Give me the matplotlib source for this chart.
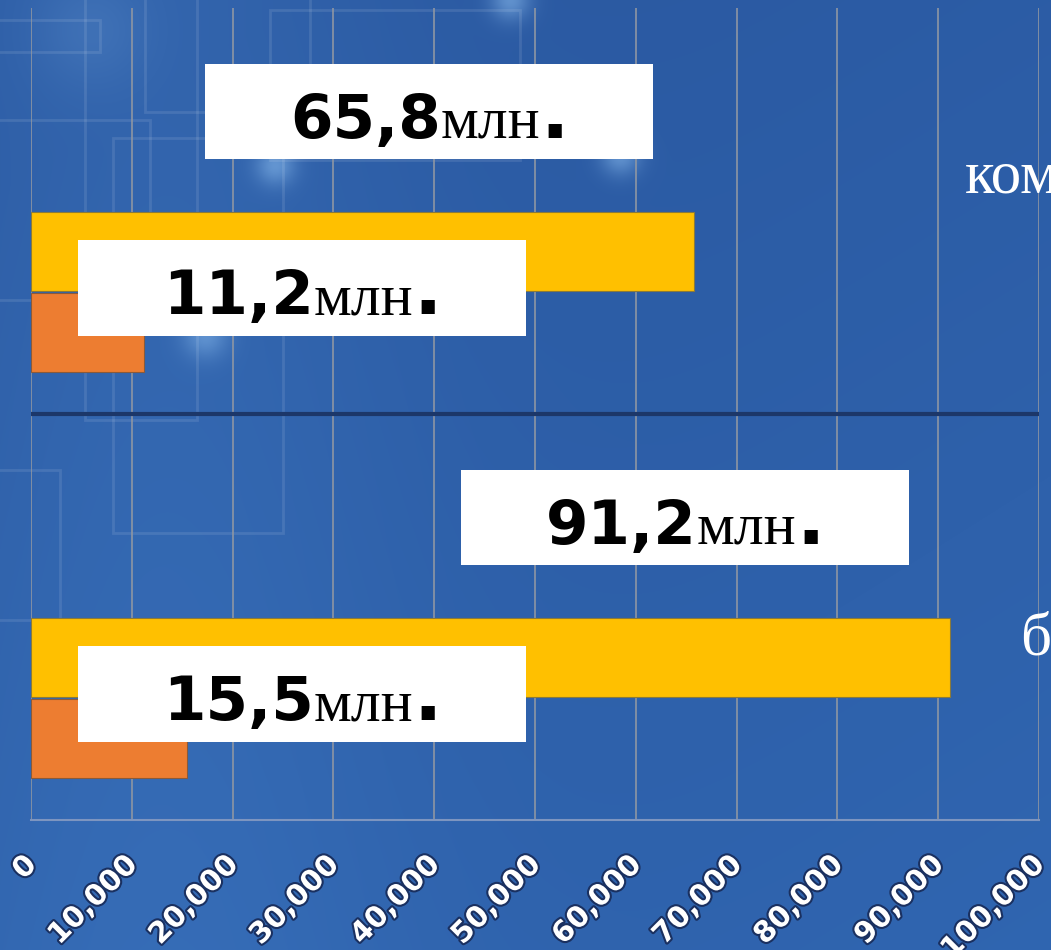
import numpy as np
import matplotlib.pyplot as plt
from matplotlib.patches import Rectangle
from matplotlib.offsetbox import TextArea, HPacker, AnnotationBbox
from matplotlib.ticker import FuncFormatter
from matplotlib.transforms import ScaledTranslation
import matplotlib.patheffects as pe

# data (top category first)
categories = ['коммерческие', 'бюджетные']
yellow_vals = [65800, 91200]
orange_vals = [11200, 15500]
x_ticks = list(range(0, 100001, 10000))
unit = 'млн'

W, H = 1051, 950
fig = plt.figure(figsize=(W / 100, H / 100), dpi=100)

# background: blue slide with faint circuit squares and glows
bg = fig.add_axes([0, 0, 1, 1])
bg.axis('off')
yy, xx = np.mgrid[0:H, 0:W].astype(float)
base = np.array([42, 88, 160]) / 255
light = np.array([50, 106, 182]) / 255
t = np.clip(0.5 * (yy / H) + 0.35 * (xx / W) - 0.1, 0, 1)
left = np.exp(-((xx - 150) / 260) ** 2) * 0.5
img = base[None, None, :] * (1 - t[..., None]) + light[None, None, :] * t[..., None]
img = img + left[..., None] * (np.array([58, 112, 185]) / 255 - base)
for gx, gy, s, a in [(275, 165, 14, 0.45), (205, 335, 16, 0.4), (620, 155, 14, 0.45),
                     (510, 0, 14, 0.45), (90, 30, 40, 0.12)]:
    g = np.exp(-((xx - gx) ** 2 + (yy - gy) ** 2) / (2 * s ** 2)) * a
    img = img + g[..., None] * (np.array([160, 210, 255]) / 255 - img)
bg.imshow(np.clip(img, 0, 1), extent=[0, W, H, 0], aspect='auto')
for (x0, y0, x1, y1) in [(-20, 20, 100, 52), (145, -10, 310, 112), (113, 138, 283, 533),
                         (-20, 120, 150, 300), (85, -10, 197, 420), (270, 10, 520, 160),
                         (-20, 470, 60, 620)]:
    bg.add_patch(Rectangle((x0, y0), x1 - x0, y1 - y0, fill=False,
                           edgecolor='white', lw=2, alpha=0.10))
bg.set_xlim(0, W)
bg.set_ylim(H, 0)

# chart axes
ax = fig.add_axes([31 / W, 1 - 820 / H, 1008 / W, 812 / H])
ax.patch.set_alpha(0)
ax.set_xlim(0, 100000)
ax.set_ylim(0, 2)

n = len(categories)
base_y = np.arange(n)[::-1]  # top category drawn at 1, bottom at 0
bar_h = 0.195
ax.barh(base_y + 0.40, yellow_vals, height=bar_h, color='#FFC000',
        edgecolor='#8a7a3a', lw=0.8, zorder=3)
ax.barh(base_y + 0.20, orange_vals, height=bar_h, color='#ED7D31',
        edgecolor='#8a5a3a', lw=0.8, zorder=3)

ax.set_xticks(x_ticks)
ax.xaxis.set_major_formatter(FuncFormatter(lambda v, p: f'{v:,.0f}'))
ax.grid(axis='x', color='#8e96a3', lw=1.2)
ax.set_axisbelow(True)
ax.set_yticks([])
ax.axhline(1, color='#1c3769', lw=3, zorder=2)
for s in ['top', 'right', 'left']:
    ax.spines[s].set_visible(False)
ax.spines['bottom'].set_color('#7d95c0')
ax.spines['bottom'].set_linewidth(1.5)
ax.tick_params(axis='x', length=0, pad=22, labelcolor='white')
shift = ScaledTranslation(8 / 72, 0, fig.dpi_scale_trans)
for lab in ax.get_xticklabels():
    lab.set_rotation(45)
    lab.set_ha('right')
    lab.set_fontfamily('DejaVu Sans')
    lab.set_fontweight('bold')
    lab.set_fontsize(21)
    lab.set_transform(lab.get_transform() + shift)
    lab.set_path_effects([pe.withStroke(linewidth=3, foreground='#1a3060')])

# value labels in white boxes
box_w = 44444
box_h = 0.236


def value_label(cx, cy, v):
    ax.add_patch(Rectangle((cx - box_w / 2, cy - box_h / 2), box_w, box_h,
                           facecolor='white', edgecolor='none', zorder=5))
    num = f'{v / 1000:.1f}'.replace('.', ',')
    parts = [
        TextArea(num, textprops=dict(family='DejaVu Sans', weight='bold',
                                     size=44, color='black')),
        TextArea(unit, textprops=dict(family='Liberation Serif', size=43,
                                      color='black')),
        TextArea('.', textprops=dict(family='DejaVu Sans', weight='bold',
                                     size=54, color='black')),
    ]
    pack = HPacker(children=parts, align='baseline', pad=0, sep=0)
    ab = AnnotationBbox(pack, (cx, cy), xybox=(0, -4), boxcoords='offset points',
                        box_alignment=(0.5, 0.5), frameon=False, zorder=6)
    ax.add_artist(ab)


for b, yv, ov in zip(base_y, yellow_vals, orange_vals):
    value_label(yv - 26300, b + 0.745, yv)
    value_label(26900, b + 0.31, ov)

# category names on the right (cut by the slide edge)
fig.text(965 / W, 1 - 193 / H, categories[0], color='white',
         family='Liberation Serif', fontsize=44, va='baseline', ha='left')
fig.text(1020 / W, 1 - 655 / H, categories[1], color='white',
         family='Liberation Serif', fontsize=44, va='baseline', ha='left')

fig.savefig('out.png', dpi=100)
